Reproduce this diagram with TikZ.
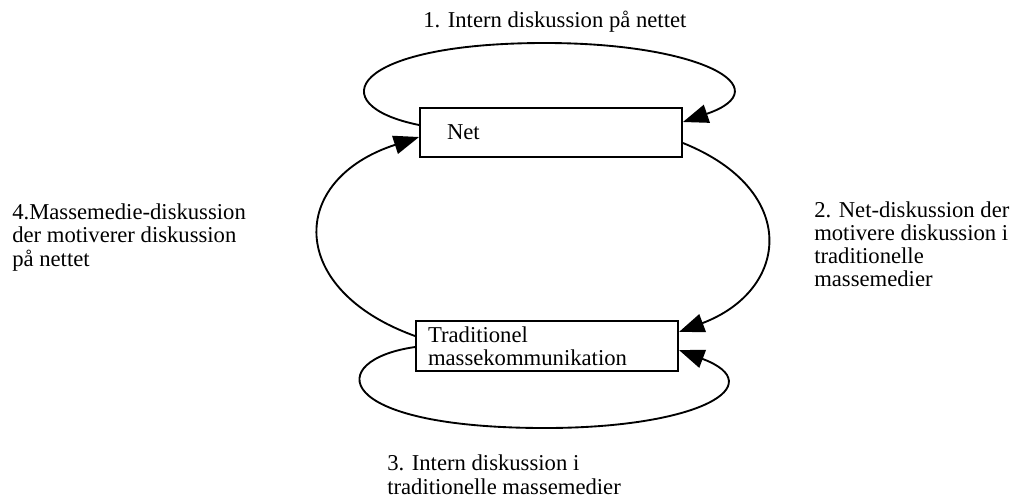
\documentclass[tikz,border=0pt]{standalone}
\usepackage{fontspec}
\setmainfont{Liberation Serif}
\usetikzlibrary{arrows.meta,calc}

\tikzset{
  medium/.style={draw, line width=1.4pt, rectangle, inner ysep=0pt,
    minimum width=196.5pt, align=left},
  flow/.style={line width=1.4pt, -{Triangle[length=19pt,width=14pt]}},
  % base anchor of a multi-line node sits on its last line
  caption/.style={anchor=base west, inner sep=0pt, align=left},
}

\begin{document}
\begin{tikzpicture}[x=0.75pt, y=-0.75pt,
    every node/.style={font=\fontsize{17}{17.3}\selectfont}]
  \useasboundingbox (0,0) rectangle (1013,497);

  % the two media
  \node[medium, minimum height=36.75pt, inner xsep=20.25pt, text width=156pt]
    (net) at (551,132.5) {Net};
  \node[medium, minimum height=37.5pt, inner xsep=9pt, text width=178.5pt]
    (trad) at (547,346) {Traditionel\\massekommunikation};

  % anchor points on the box edges
  \coordinate (netLoopOut) at ($(net.west)+(0,-7.5)$);
  \coordinate (netLoopIn)  at ($(net.east)+(0,-10.5)$);
  \coordinate (netDown)    at ($(net.east)+(0,10.5)$);
  \coordinate (netUpIn)    at ($(net.west)+(0,4.5)$);
  \coordinate (tradDownIn) at ($(trad.east)+(0,-14)$);
  \coordinate (tradUp)     at ($(trad.west)+(0,-10)$);
  \coordinate (tradLoopOut) at ($(trad.west)+(0,1)$);
  \coordinate (tradLoopIn)  at ($(trad.east)+(0,4)$);

  % 1: loop on the net
  \draw[flow] (netLoopOut) .. controls (320,105) and (350,43) .. (545,43)
    .. controls (700,43) and (782,88) .. (netLoopIn);
  % 2: net to mass media
  \draw[flow] (netDown) .. controls (800,190) and (790,290) .. (tradDownIn);
  % 3: loop on the mass media
  \draw[flow] (tradLoopOut) .. controls (324,360) and (330,428) .. (545,428)
    .. controls (700,428) and (772,385) .. (tradLoopIn);
  % 4: mass media back to the net
  \draw[flow] (tradUp) .. controls (287,290) and (287,180) .. (netUpIn);

  % captions (positioned by the baseline of their last line)
  \node[caption] (c1) at (423,27) {1. Intern diskussion på nettet};
  \node[caption] (c2) at (814,286.7) {2. Net-diskussion der\\motivere diskussion i\\traditionelle\\massemedier};
  \node[caption] (c3) at (387,494) {3. Intern diskussion i\\traditionelle massemedier};
  \node[caption] (c4) at (12,266) {4.Massemedie-diskussion\\der motiverer diskussion\\på nettet};
\end{tikzpicture}
\end{document}
